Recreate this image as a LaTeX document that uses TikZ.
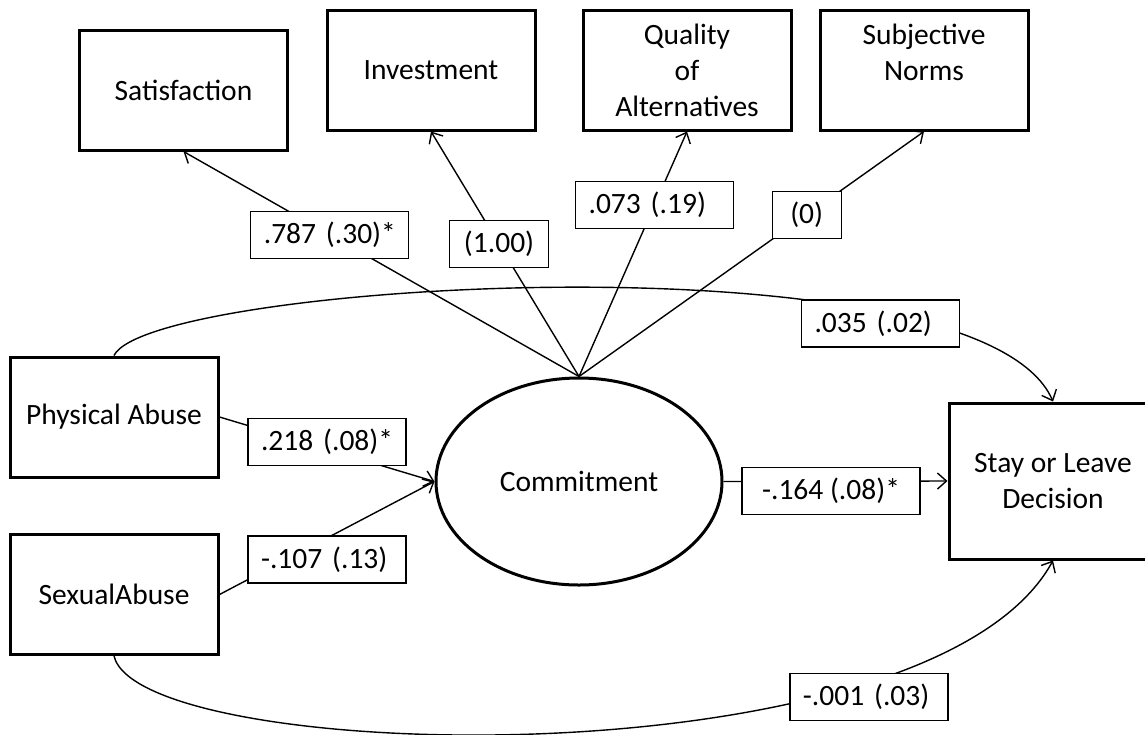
\documentclass[tikz,border=0pt]{standalone}
\usepackage{fontspec}
\setmainfont{Carlito}
\usepackage{tikz}
\usetikzlibrary{arrows.meta,shapes.geometric}

\begin{document}
\begin{tikzpicture}[x=0.5pt,y=-0.5pt,->,>={Straight Barb[length=4.5pt,width=8pt]},
  line width=0.7pt,font=\fontsize{14.75}{18}\selectfont,
  rec node/.style={rectangle,draw,fill=white,line width=1.5pt,align=center,minimum width=104pt,minimum height=60pt,inner sep=0pt},
  lat node/.style={ellipse,draw,fill=white,line width=1.5pt,minimum width=143pt,minimum height=103.5pt,inner sep=0pt},
  coef node/.style={rectangle,draw,fill=white,line width=0.6pt,inner xsep=6.5pt,inner ysep=0pt,minimum height=23.5pt,text width=66pt,align=left},
  short node/.style={rectangle,draw,fill=white,line width=0.6pt,inner ysep=0pt,minimum height=23.5pt}]

  \useasboundingbox (0,0) rectangle (1145,734);

  \node[rec node] (sat) at (183.5,90) {Satisfaction};
  \node[rec node] (inv) at (431,70) {Investment};
  \node[rec node] (qual) at (687,70) {Quality\\of\\Alternatives};
  \node[rec node] (sn) at (924,70) {Subjective\\Norms\\\mbox{}};
  \node[rec node] (pa) at (114,417) {Physical Abuse};
  \node[rec node] (sa) at (114,594.5) {SexualAbuse};
  \node[lat node] (com) at (579,481.5) {Commitment};
  \node[rec node,minimum height=78pt] (stay) at (1053,481) {Stay or Leave\\Decision};

  % covariances with the decision
  \draw (pa.north) .. controls (150,282) and (980,232) .. node[coef node,pos=0.75,yshift=-5.5pt] {\mbox{.035 (.02)}} (stay.north);
  \draw (sa.south) .. controls (140,765) and (930,785) .. node[coef node,pos=0.76,yshift=-7.5pt] {\mbox{-.001 (.03)}} (stay.south);

  \path
    (com.north) edge node[coef node,pos=0.63] {\mbox{.787 (.30)*}} (sat.south)
    (com.north) edge node[short node,minimum width=49.5pt,pos=0.54] {(1.00)} (inv.south)
    (com.north) edge node[coef node,pos=0.70] {\mbox{.073 (.19)}} (qual.south)
    (com.north) edge node[short node,minimum width=34.5pt,pos=0.66] {(0)} (sn.south)
    ;

  \path
    (pa.east) edge node[coef node,yshift=3.75pt] {\mbox{.218 (.08)*}} (com.west)
    (sa.east) edge node[coef node,yshift=-10.75pt] {\mbox{-.107 (.13)}} (com.west)
    (com.east) edge node[short node,minimum width=89pt,pos=0.48,yshift=-4.75pt] {-.164 (.08)*} (stay.west)
    ;

\end{tikzpicture}
\end{document}
